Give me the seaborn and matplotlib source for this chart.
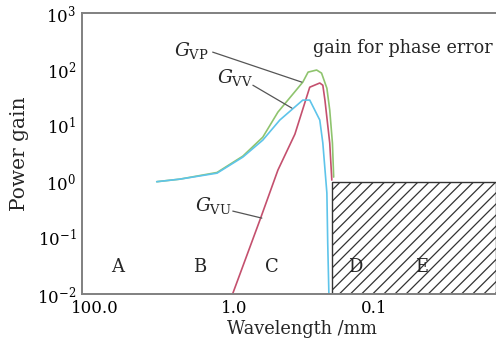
import matplotlib
matplotlib.use("Agg")
import matplotlib.pyplot as plt
import pandas as pd
import seaborn as sns
from matplotlib.ticker import FixedLocator, FixedFormatter, NullLocator

# curve data (wavelength in axis units, power gain)
vv_wl = [3.6, 2.46, 1.33, 0.869, 0.625, 0.472, 0.323, 0.288, 0.265, 0.244, 0.232, 0.217, 0.214, 0.210, 0.208]
vv_gain = [1.0, 1.11, 1.42, 2.74, 5.5, 12.5, 28.3, 28.3, 18.8, 12.5, 4.87, 0.63, 0.081, 0.0105, 0.005]

vp_wl = [3.6, 2.46, 1.33, 0.869, 0.625, 0.487, 0.323, 0.296, 0.257, 0.237, 0.217, 0.207, 0.198, 0.194]
vp_gain = [1.0, 1.11, 1.46, 2.85, 6.2, 17.3, 59, 89, 97, 85.5, 46, 18.8, 4.87, 1.21]

vu_wl = [1.1, 1.03, 0.656, 0.487, 0.368, 0.288, 0.244, 0.232, 0.224, 0.207, 0.200]
vu_gain = [0.006, 0.01, 0.207, 1.61, 7.0, 48, 57, 52, 28, 4.87, 1.07]

# hatched "gain for phase error" region
phase_wl = [0.2, 0.0133]
phase_gain = [1.0, 1.0]

region_labels = ["A", "B", "C", "D", "E"]
region_wl = [6.84, 1.77, 0.538, 0.137, 0.0453]

xtick_pos = [10, 1, 0.1]
xtick_labels = ["100.0", "1.0", "0.1"]
ytick_pos = [1e-2, 1e-1, 1e0, 1e1, 1e2, 1e3]
ytick_labels = [r"$10^{-2}$", r"$10^{-1}$", r"$10^{0}$", r"$10^{1}$", r"$10^{2}$", r"$10^{3}$"]

sns.set_style("white")
plt.rcParams["font.family"] = ["DejaVu Serif"]
plt.rcParams["mathtext.fontset"] = "dejavuserif"
plt.rcParams["hatch.linewidth"] = 0.9

df = pd.concat([
    pd.DataFrame({"wl": vp_wl, "gain": vp_gain, "curve": "VP"}),
    pd.DataFrame({"wl": vu_wl, "gain": vu_gain, "curve": "VU"}),
    pd.DataFrame({"wl": vv_wl, "gain": vv_gain, "curve": "VV"}),
])
palette = {"VP": "#8fc46e", "VU": "#c4506e", "VV": "#5ec4ea"}

fig, ax = plt.subplots(figsize=(4.96, 3.44), dpi=100)
fig.subplots_adjust(left=0.165, right=1.0, bottom=0.145, top=0.962)

sns.lineplot(data=df, x="wl", y="gain", hue="curve", palette=palette,
             estimator=None, sort=False, linewidth=1.2, legend=False, ax=ax)

ax.set_xscale("log")
ax.set_yscale("log")
ax.set_xlim(12.4, 0.0133)
ax.set_ylim(1e-2, 1e3)

ax.fill_between(phase_wl, 1e-2, phase_gain, facecolor="none",
                edgecolor="#333333", hatch="///", linewidth=1.0, zorder=1)

ax.xaxis.set_major_locator(FixedLocator(xtick_pos))
ax.xaxis.set_major_formatter(FixedFormatter(xtick_labels))
ax.xaxis.set_minor_locator(NullLocator())
ax.yaxis.set_major_locator(FixedLocator(ytick_pos))
ax.yaxis.set_major_formatter(FixedFormatter(ytick_labels))
ax.yaxis.set_minor_locator(NullLocator())
ax.tick_params(direction="in", length=3, width=0.8, colors="#555555",
               labelcolor="black", labelsize=12, pad=4)

for s in ["left", "bottom", "top"]:
    ax.spines[s].set_color("#808080")
    ax.spines[s].set_linewidth(1.4)
ax.spines["right"].set_visible(False)

ax.set_xlabel("Wavelength /mm", fontsize=12.8)
ax.set_ylabel("Power gain", fontsize=14.5)
ax.xaxis.set_label_coords(0.531, -0.093)
ax.yaxis.set_label_coords(-0.128, 0.5)

# curve labels with leader lines
lead = dict(arrowstyle="-", color="#555555", lw=0.9, shrinkA=0, shrinkB=0)
ax.text(2.72, 220, r"$G_{\rm VP}$", fontsize=13.5, ha="left", va="center")
ax.annotate("", xy=(0.328, 59), xytext=(1.43, 202), arrowprops=lead)
ax.text(1.33, 70, r"$G_{\rm VV}$", fontsize=13.5, ha="left", va="center")
ax.annotate("", xy=(0.387, 20.4), xytext=(0.736, 52), arrowprops=lead)
ax.text(1.92, 0.384, r"$G_{\rm VU}$", fontsize=13.5, ha="left", va="center")
ax.annotate("", xy=(0.635, 0.225), xytext=(1.026, 0.30), arrowprops=lead)

ax.text(0.0619, 238, "gain for phase error", fontsize=12.7, ha="center", va="center")

for lab, wl in zip(region_labels, region_wl):
    ax.text(wl, 0.030, lab, fontsize=13, ha="center", va="center")

fig.savefig("out.png", dpi=100)
